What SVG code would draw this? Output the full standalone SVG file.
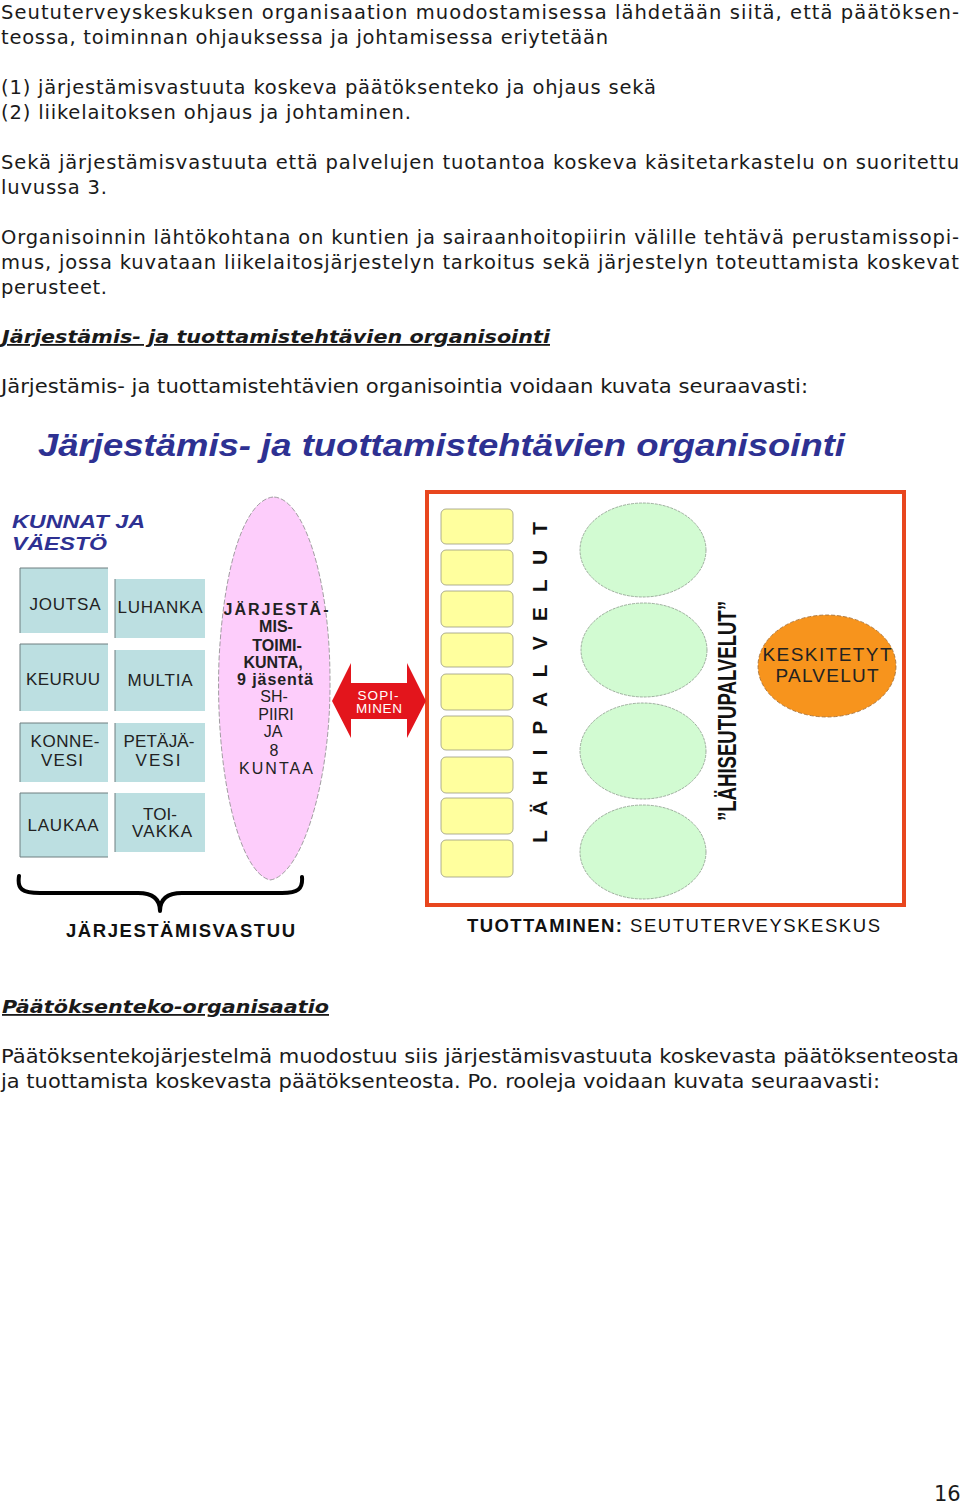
<svg xmlns="http://www.w3.org/2000/svg" width="960" height="1504" viewBox="0 0 960 1504">
<style>
.b{font-family:"DejaVu Sans",Verdana,sans-serif;font-size:19.5px;fill:#1a1a1a}
.h{font-family:"DejaVu Sans",Verdana,sans-serif;font-size:18px;font-weight:bold;font-style:italic;fill:#1a1a1a;text-decoration:underline}
.a{font-family:"Liberation Sans",Arial,sans-serif;fill:#222}
.box{fill:#bcdfe1}
.edge{fill:none;stroke:#6f7f80;stroke-width:1}
.yl{fill:#ffff9e;stroke:#9a9a80;stroke-width:0.8}
.gr{fill:#d2fbd2;stroke:#8a9a8a;stroke-width:0.8;stroke-dasharray:3 1}
.bt{font-size:17px;text-anchor:middle}
.pk{font-size:16px;text-anchor:middle}
</style>
<rect width="960" height="1504" fill="#fff"/>

<g id="text">
<text class="b" x="1" y="19" textLength="958">Seututerveyskeskuksen organisaation muodostamisessa lähdetään siitä, että päätöksen-</text>
<text class="b" x="1" y="44" textLength="607">teossa, toiminnan ohjauksessa ja johtamisessa eriytetään</text>
<text class="b" x="1" y="94" textLength="655">(1) järjestämisvastuuta koskeva päätöksenteko ja ohjaus sekä</text>
<text class="b" x="1" y="119" textLength="410">(2) liikelaitoksen ohjaus ja johtaminen.</text>
<text class="b" x="1" y="169" textLength="958">Sekä järjestämisvastuuta että palvelujen tuotantoa koskeva käsitetarkastelu on suoritettu</text>
<text class="b" x="1" y="194" textLength="106">luvussa 3.</text>
<text class="b" x="1" y="244" textLength="958">Organisoinnin lähtökohtana on kuntien ja sairaanhoitopiirin välille tehtävä perustamissopi-</text>
<text class="b" x="1" y="269" textLength="958">mus, jossa kuvataan liikelaitosjärjestelyn tarkoitus sekä järjestelyn toteuttamista koskevat</text>
<text class="b" x="1" y="294" textLength="106">perusteet.</text>
<text class="h" x="2" y="343" textLength="548" lengthAdjust="spacingAndGlyphs">Järjestämis- ja tuottamistehtävien organisointi</text>
<text class="b" x="1" y="393" textLength="807" lengthAdjust="spacingAndGlyphs">Järjestämis- ja tuottamistehtävien organisointia voidaan kuvata seuraavasti:</text>
<text class="h" x="2" y="1013" textLength="327" lengthAdjust="spacingAndGlyphs">Päätöksenteko-organisaatio</text>
<text class="b" x="1" y="1063" textLength="958" lengthAdjust="spacingAndGlyphs">Päätöksentekojärjestelmä muodostuu siis järjestämisvastuuta koskevasta päätöksenteosta</text>
<text class="b" x="1" y="1088" textLength="879" lengthAdjust="spacingAndGlyphs">ja tuottamista koskevasta päätöksenteosta. Po. rooleja voidaan kuvata seuraavasti:</text>
<text class="b" x="934" y="1501" style="font-size:21px">16</text>
</g>

<g id="title">
<text class="a" x="38" y="456" textLength="807" lengthAdjust="spacingAndGlyphs" style="font-size:31px;font-weight:bold;font-style:italic;fill:#2e3192">Järjestämis- ja tuottamistehtävien organisointi</text>
</g>

<g id="kunnat-label">
<text class="a" x="12" y="528" textLength="133" lengthAdjust="spacingAndGlyphs" style="font-size:19px;font-weight:bold;font-style:italic;fill:#2e3192">KUNNAT JA</text>
<text class="a" x="12" y="550" textLength="95" lengthAdjust="spacingAndGlyphs" style="font-size:19px;font-weight:bold;font-style:italic;fill:#2e3192">VÄESTÖ</text>
</g>

<g id="joutsa"><rect class="box" x="20" y="568" width="88" height="65"/><path class="edge" d="M20 633V568H108"/><text class="a bt" x="65" y="610" textLength="71">JOUTSA</text></g>
<g id="luhanka"><rect class="box" x="115" y="579" width="90" height="59"/><path class="edge" d="M115 638V579"/><text class="a bt" x="160" y="613" textLength="85">LUHANKA</text></g>
<g id="keuruu"><rect class="box" x="20" y="644" width="88" height="67"/><path class="edge" d="M20 711V644H108"/><text class="a bt" x="63" y="685" textLength="74">KEURUU</text></g>
<g id="multia"><rect class="box" x="115" y="650" width="90" height="61"/><path class="edge" d="M115 711V650"/><text class="a bt" x="160" y="686" textLength="65">MULTIA</text></g>
<g id="konnevesi"><rect class="box" x="20" y="723" width="88" height="59"/><path class="edge" d="M20 782V723H108"/><text class="a bt" x="65" y="747" textLength="69">KONNE-</text><text class="a bt" x="62" y="766" textLength="42">VESI</text></g>
<g id="petajavesi"><rect class="box" x="115" y="723" width="90" height="59"/><path class="edge" d="M115 782V723"/><text class="a bt" x="159" y="747" textLength="71">PETÄJÄ-</text><text class="a bt" x="158" y="766" textLength="45">VESI</text></g>
<g id="laukaa"><rect class="box" x="20" y="793" width="88" height="64"/><path class="edge" d="M20 857V793H108M20 857H108"/><text class="a bt" x="63" y="831" textLength="71">LAUKAA</text></g>
<g id="toivakka"><rect class="box" x="115" y="793" width="90" height="59"/><path class="edge" d="M115 852V793"/><text class="a bt" x="160" y="820" textLength="34">TOI-</text><text class="a bt" x="162" y="837" textLength="60">VAKKA</text></g>

<g id="jarjestamistoimikunta">
<path d="M273 497C246 500 224 560 219 660C215 770 238 872 270 880C302 876 331 780 330 680C330 580 304 497 273 497Z" fill="#fdcdfb" stroke="#8a8a8a" stroke-width="0.8" stroke-dasharray="5 2"/>
<g class="a" style="font-weight:bold">
<text class="pk" x="276" y="615" textLength="105">JÄRJESTÄ-</text>
<text class="pk" x="276" y="632">MIS-</text>
<text class="pk" x="277" y="651">TOIMI-</text>
<text class="pk" x="273" y="668">KUNTA,</text>
<text class="pk" x="275" y="685" textLength="76">9 jäsentä</text>
</g>
<text class="a pk" x="274" y="702">SH-</text>
<text class="a pk" x="276" y="720">PIIRI</text>
<text class="a pk" x="273" y="737">JA</text>
<text class="a pk" x="274" y="756">8</text>
<text class="a pk" x="276" y="774" textLength="74">KUNTAA</text>
</g>

<g id="tuottaminen-frame">
<rect x="427" y="492" width="477" height="413" fill="none" stroke="#e8461e" stroke-width="4"/>
</g>

<g id="lahipalvelut">
<rect class="yl" x="441" y="509" width="72" height="35" rx="5"/>
<rect class="yl" x="441" y="550" width="72" height="35" rx="5"/>
<rect class="yl" x="441" y="591" width="72" height="36" rx="5"/>
<rect class="yl" x="441" y="633" width="72" height="34" rx="5"/>
<rect class="yl" x="441" y="674" width="72" height="36" rx="5"/>
<rect class="yl" x="441" y="716" width="72" height="34" rx="5"/>
<rect class="yl" x="441" y="757" width="72" height="36" rx="5"/>
<rect class="yl" x="441" y="798" width="72" height="36" rx="5"/>
<rect class="yl" x="441" y="840" width="72" height="37" rx="5"/>
<text class="a" transform="translate(547,843) rotate(-90)" x="0" y="0" textLength="321" style="font-size:21px;font-weight:bold;fill:#111">L Ä H I P A L V E L U T</text>
</g>

<g id="lahiseutupalvelut">
<ellipse class="gr" cx="643" cy="550" rx="63" ry="47"/>
<ellipse class="gr" cx="644" cy="650" rx="63" ry="47"/>
<ellipse class="gr" cx="643" cy="751" rx="63" ry="48"/>
<ellipse class="gr" cx="643" cy="852" rx="63" ry="47"/>
<text class="a" transform="translate(736,821) rotate(-90)" x="0" y="0" textLength="220" lengthAdjust="spacingAndGlyphs" style="font-size:25px;font-weight:bold;fill:#111">”LÄHISEUTUPALVELUT”</text>
</g>

<g id="keskitetyt">
<ellipse cx="827" cy="666" rx="69" ry="51" fill="#f7941d" stroke="#a06a30" stroke-width="0.8" stroke-dasharray="4 2"/>
<text class="a" x="827" y="661" text-anchor="middle" textLength="129" style="font-size:19px">KESKITETYT</text>
<text class="a" x="827" y="682" text-anchor="middle" textLength="103" style="font-size:19px">PALVELUT</text>
</g>

<g id="connectors">
<path d="M332 701L351 663V683H407V663L426 701L407 738V719H351V738Z" fill="#e3151c"/>
<text class="a" x="378" y="700" text-anchor="middle" textLength="41" style="font-size:13.5px;fill:#fff">SOPI-</text>
<text class="a" x="379" y="713" text-anchor="middle" textLength="46" style="font-size:13.5px;fill:#fff">MINEN</text>
<path d="M19 876C17 889 22 893 40 893H138C153 893 160 899 160 911C160 899 167 893 182 893H282C298 893 303 889 302 877" fill="none" stroke="#000" stroke-width="4" stroke-linecap="round" stroke-linejoin="round"/>
</g>

<g id="bottom-labels">
<text class="a" x="66" y="937" textLength="229" style="font-size:18.5px;font-weight:bold;fill:#111">JÄRJESTÄMISVASTUU</text>
<text class="a" x="467" y="932" style="font-size:18.5px;fill:#111"><tspan font-weight="bold" textLength="155">TUOTTAMINEN:</tspan><tspan x="630" textLength="250">SEUTUTERVEYSKESKUS</tspan></text>
</g>
</svg>
